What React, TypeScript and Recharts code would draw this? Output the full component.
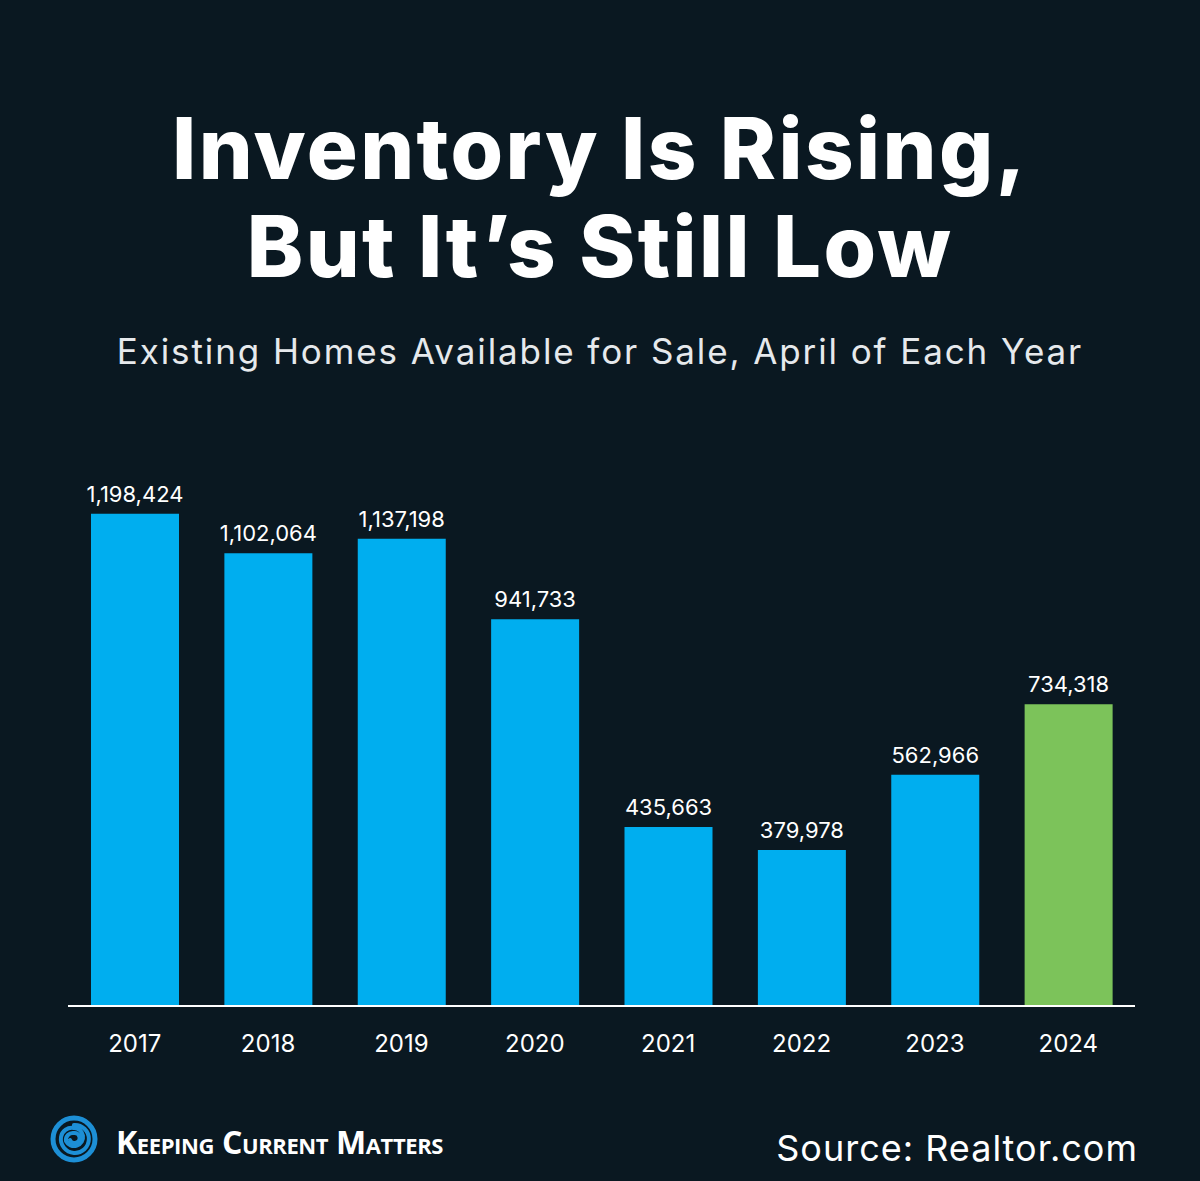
import { BarChart, Bar, XAxis, YAxis, Cell, LabelList } from 'recharts';

const years = ['2017', '2018', '2019', '2020', '2021', '2022', '2023', '2024'];
const homesForSale = [1198424, 1102064, 1137198, 941733, 435663, 379978, 562966, 734318];
const highlightYear = '2024';

const BG = '#0a1821';
const BLUE = '#00aeef';
const GREEN = '#7cc35a';

const chartData = years.map((year, i) => ({ year, value: homesForSale[i] }));

const YearTick = (props: any) => {
    const { x, y, payload } = props;
    return (
        <text
            x={x}
            y={y + 46}
            textAnchor="middle"
            fill="#ffffff"
            fontSize={24}
            fontFamily="Inter, 'Open Sans', sans-serif"
        >
            {payload.value}
        </text>
    );
};

function Logo() {
    return (
        <svg width={48} height={48} viewBox="0 0 48 48" style={{ position: 'absolute', left: 50, top: 1115 }}>
            <circle cx={24} cy={24} r={21} fill="none" stroke="#1d8fd6" strokeWidth={5} />
            <path
                d="M24 10 A14 14 0 1 1 11 22 A11 11 0 0 1 24 13 A9 9 0 1 1 16 26 A7 7 0 0 1 24 18 A5 5 0 1 1 20 25"
                fill="none"
                stroke="#1d8fd6"
                strokeWidth={4}
                strokeLinecap="round"
            />
        </svg>
    );
}

export default function App() {
    return (
        <div
            style={{
                position: 'absolute',
                left: 0,
                top: 0,
                width: 1200,
                height: 1181,
                background: BG,
                overflow: 'hidden',
                fontFamily: "Inter, 'Open Sans', sans-serif",
                color: '#ffffff',
            }}
        >
            {/* Title */}
            <div
                style={{
                    position: 'absolute',
                    top: 100,
                    width: 1200,
                    textAlign: 'center',
                    fontSize: 85,
                    fontWeight: 800,
                    lineHeight: '98px',
                    letterSpacing: 2.4,
                }}
            >
                Inventory Is Rising,
                <br />
                But It’s Still Low
            </div>
            <div
                style={{
                    position: 'absolute',
                    top: 330,
                    width: 1200,
                    textAlign: 'center',
                    fontSize: 35,
                    letterSpacing: 1.9,
                    color: '#e6e9ec',
                }}
            >
                Existing Homes Available for Sale, April of Each Year
            </div>

            <div style={{ position: 'absolute', left: 0, top: 0 }}>
                <BarChart
                    width={1200}
                    height={1100}
                    data={chartData}
                    margin={{ top: 472, right: 65, bottom: 0, left: 68 }}
                    barCategoryGap={0}
                >
                    <YAxis hide domain={[0, 1300000]} />
                    <XAxis
                        dataKey="year"
                        height={94}
                        axisLine={{ stroke: '#ffffff', strokeWidth: 2 }}
                        tickLine={false}
                        tickSize={0}
                        tickMargin={0}
                        tick={<YearTick />}
                        interval={0}
                    />
                    <Bar dataKey="value" barSize={88} isAnimationActive={false}>
                        {chartData.map((d) => (
                            <Cell key={d.year} fill={d.year === highlightYear ? GREEN : BLUE} />
                        ))}
                        <LabelList
                            dataKey="value"
                            position="top"
                            offset={12}
                            fill="#ffffff"
                            fontSize={22}
                            fontFamily="Inter, 'Open Sans', sans-serif"
                            formatter={(v: any) => Number(v).toLocaleString('en-US')}
                        />
                    </Bar>
                </BarChart>
            </div>

            {/* Footer */}
            <Logo />
            <div
                style={{
                    position: 'absolute',
                    left: 116,
                    top: 1120,
                    fontSize: 32,
                    fontWeight: 700,
                    fontVariant: 'small-caps',
                    fontFamily: "'Liberation Sans Narrow', 'Open Sans', sans-serif",
                    letterSpacing: -0.4,
                }}
            >
                Keeping Current Matters
            </div>
            <div
                style={{
                    position: 'absolute',
                    right: 62,
                    top: 1126,
                    fontSize: 36,
                    letterSpacing: 1,
                    color: '#ffffff',
                }}
            >
                Source: Realtor.com
            </div>
        </div>
    );
}
